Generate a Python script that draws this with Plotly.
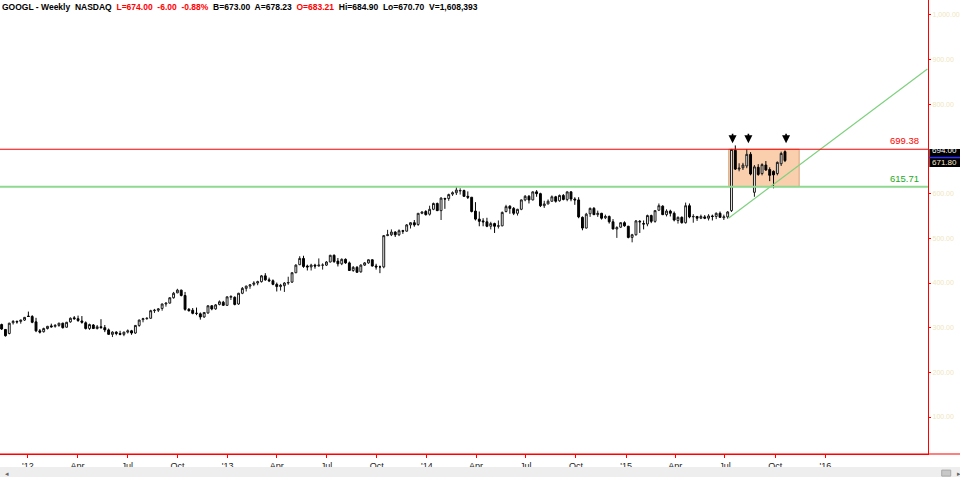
import pandas as pd
import plotly.graph_objects as go

# ---------------- data (weekly GOOGL candles) ----------------
opens = [307, 296, 287, 311, 314, 314, 317,
         326, 325, 313, 293, 291, 298, 304, 303, 305, 310, 301, 313, 322, 320, 315, 311, 298, 306, 298, 302, 300, 295,
         285, 290, 287, 285, 290, 293, 288, 305, 318, 320, 321, 338, 339, 343, 353, 355, 367, 378, 384, 372, 341, 339,
         332, 331, 324, 333, 349, 342, 352, 357, 350,
         368, 368, 353, 377, 388, 393, 397, 400, 403, 416, 407, 405, 397, 392, 394, 400, 402, 423, 441, 455, 438,
         436, 440, 438, 440, 440, 447, 462, 449, 443, 453, 445, 428, 435, 425, 440, 445, 452, 438, 436, 436, 506,
         508, 514, 508, 517, 516, 530, 535, 531, 556, 560,
         554, 565, 578, 562, 589, 589, 599, 602, 606, 607, 594, 592, 561, 543, 539, 537, 527, 533, 527, 528, 560,
         572, 567, 556, 565, 586, 594, 586, 604, 600, 573, 577, 583, 593, 584, 596, 587, 604, 588, 586, 547, 523,
         555, 567, 553, 556, 546, 549, 537, 521, 525, 535,
         527, 502, 508, 538, 533, 532, 551, 538, 563, 572, 553, 561, 556, 540, 547, 535, 573, 548, 549, 545, 548,
         545, 550, 549, 556, 546, 548, 562, 697, 655, 658, 662, 688, 603, 659, 645, 664, 654, 650, 645, 667, 694]
highs = [309, 297, 311, 317, 316, 318, 324,
         336, 328, 322, 297, 300, 304, 309, 308, 311, 311, 313, 323, 326, 327, 326, 314, 309, 308, 306, 319, 306, 298,
         292, 292, 293, 291, 296, 295, 306, 318, 322, 323, 340, 342, 344, 354, 356, 368, 380, 387, 385, 380, 344, 344,
         345, 334, 335, 350, 350, 353, 361, 360, 370,
         372, 370, 378, 391, 394, 397, 404, 405, 418, 422, 412, 408, 401, 398, 402, 414, 424, 442, 460, 461, 441,
         443, 443, 455, 444, 449, 463, 464, 456, 455, 455, 448, 438, 438, 442, 447, 453, 453, 443, 439, 507, 519,
         520, 516, 520, 519, 532, 536, 541, 556, 560, 563,
         573, 580, 580, 592, 591, 600, 605, 615.7, 612, 609, 605, 592, 581, 560, 545, 546, 537, 535, 540, 560, 575,
         574, 570, 566, 587, 597, 597, 605, 608, 602, 584, 587, 596, 595, 598, 599, 605, 605, 592, 592, 549, 557,
         569, 570, 562, 557, 553, 551, 543, 527, 536, 538,
         528, 510, 541, 541, 540, 553, 553, 563, 578, 574, 565, 564, 560, 549, 549, 580, 578, 554, 550, 553, 552,
         554, 553, 558, 560, 553, 561, 700, 708, 668, 669, 700, 693, 664, 666, 668, 673, 659, 652, 672, 694, 697]
lows = [295, 280, 285, 307, 309, 309, 315,
        324, 310, 290, 287, 289, 296, 300, 300, 302, 298, 300, 311, 318, 313, 309, 296, 295, 297, 296, 298, 290, 284,
        279, 283, 283, 281, 287, 284, 286, 302, 312, 318, 320, 333, 335, 338, 347, 354, 365, 377, 370, 338, 336, 330,
        328, 318, 322, 331, 339, 340, 350, 349, 349,
        362, 350, 351, 375, 381, 387, 393, 395, 401, 405, 402, 395, 381, 383, 380, 396, 400, 422, 440, 434, 428,
        428, 432, 437, 430, 438, 446, 445, 437, 440, 443, 427, 425, 423, 423, 438, 443, 437, 430, 422, 433, 505,
        505, 503, 505, 510, 515, 522, 526, 528, 554, 551,
        551, 563, 561, 541, 566, 584, 595, 597, 598, 593, 588, 558, 540, 527, 527, 525, 520, 512, 522, 527, 558,
        555, 552, 551, 563, 583, 578, 585, 593, 570, 568, 576, 582, 580, 582, 585, 583, 583, 575, 545, 518, 522,
        548, 552, 548, 542, 543, 533, 520, 501, 523, 526,
        500, 491, 506, 512, 520, 527, 534, 535, 561, 552, 549, 549, 538, 533, 533, 533, 545, 535, 539, 543, 543,
        540, 540, 543, 546, 541, 544, 559, 653, 650, 653, 657, 641, 593, 640, 641, 651, 628, 612, 641, 662, 670.7]
closes = [297, 282, 310, 314, 313, 317, 323,
          325, 312, 293, 290, 298, 303, 302, 305, 310, 300, 312, 321, 320, 316, 312, 298, 307, 298, 302, 300, 295, 285,
          290, 287, 285, 290, 293, 288, 305, 317, 320, 321, 338, 339, 342, 353, 355, 367, 377, 384, 372, 341, 338, 332,
          332, 324, 334, 349, 342, 351, 358, 350, 369,
          370, 352, 377, 388, 393, 396, 400, 403, 416, 407, 405, 397, 392, 395, 400, 401, 423, 440, 455, 437, 436,
          440, 438, 440, 440, 447, 462, 448, 443, 453, 445, 428, 435, 424, 440, 445, 452, 438, 436, 436, 506, 508,
          514, 508, 517, 516, 530, 535, 530, 556, 559, 553,
          565, 578, 562, 590, 588, 598, 602, 608, 607, 594, 592, 560, 543, 538, 537, 527, 533, 527, 528, 558, 571,
          567, 556, 565, 586, 594, 586, 604, 600, 573, 577, 583, 593, 583, 596, 587, 604, 588, 586, 548, 523, 554,
          567, 553, 556, 545, 549, 537, 521, 524, 535, 528,
          502, 508, 539, 537, 532, 551, 538, 562, 573, 553, 561, 556, 541, 547, 535, 573, 548, 549, 545, 549, 545,
          550, 549, 556, 547, 548, 559, 699, 655, 657, 664, 688, 644, 660, 643, 665, 653, 641, 642, 670, 690, 674]

first_week = "2011-11-14"
dates = pd.date_range(first_week, periods=len(closes), freq="W-MON")

resistance = 699.38
support = 615.71
box_dates = ["2015-07-08", "2015-11-14"]
trend_dates = ["2015-07-08", "2016-07-06"]
trend_prices = [545.5, 879.0]
arrow_dates = ["2015-07-15", "2015-08-13", "2015-10-21"]
arrow_price = 713
tag_prices = [694.00, 671.80]
tag_labels = ["694.00", "671.80"]

quarter_ticks = ["2012-01-01", "2012-04-01", "2012-07-01", "2012-10-01",
                 "2013-01-01", "2013-04-01", "2013-07-01", "2013-10-01",
                 "2014-01-01", "2014-04-01", "2014-07-01", "2014-10-01",
                 "2015-01-01", "2015-04-01", "2015-07-01", "2015-10-01", "2016-01-01"]
quarter_labels = ["'12", "Apr", "Jul", "Oct", "'13", "Apr", "Jul", "Oct",
                  "'14", "Apr", "Jul", "Oct", "'15", "Apr", "Jul", "Oct", "'16"]
# the 700.00 label sits under the black price tags in the reference, so it is not shown
price_ticks = [100, 200, 300, 400, 500, 600, 800, 900, 1000]
price_labels = ["100.00", "200.00", "300.00", "400.00", "500.00", "600.00",
                "800.00", "900.00", "1,000.00"]

x_range = ["2011-11-11", "2016-07-07"]
y_range = [17.2, 1033.5]

# ---------------- figure ----------------
fig = go.Figure()

fig.add_trace(go.Candlestick(
    x=dates, open=opens, high=highs, low=lows, close=closes,
    increasing=dict(line=dict(color="#1a1a1a", width=1), fillcolor="#ffffff"),
    decreasing=dict(line=dict(color="#000000", width=1), fillcolor="#000000"),
    whiskerwidth=0, hoverinfo="skip", showlegend=False,
))

fig.add_trace(go.Scatter(
    x=trend_dates, y=trend_prices, mode="lines",
    line=dict(color="#7fd07f", width=1.2), hoverinfo="skip", showlegend=False,
))

shapes = [
    dict(type="rect", xref="x", yref="y", x0=box_dates[0], x1=box_dates[1],
         y0=support, y1=resistance, fillcolor="#f9cfae",
         line=dict(color="#d6a07a", width=1), layer="below"),
    dict(type="line", xref="paper", yref="y", x0=0, x1=1, y0=resistance, y1=resistance,
         line=dict(color="#ff0000", width=1)),
    dict(type="line", xref="paper", yref="y", x0=0, x1=1, y0=support, y1=support,
         line=dict(color="#8fd88f", width=2)),
    dict(type="line", xref="paper", yref="paper", x0=0, x1=1.04, y0=0, y1=0,
         line=dict(color="#ff0000", width=1.2)),
    dict(type="rect", xref="paper", yref="y", x0=1.0015, x1=1.04,
         y0=659.7, y1=700.0, fillcolor="#000000", line=dict(width=0)),
    dict(type="line", xref="paper", yref="y", x0=1.0015, x1=1.04, y0=681.0, y1=681.0,
         line=dict(color="#3030ff", width=1.5)),
    dict(type="rect", xref="paper", yref="paper", x0=-0.01, x1=1.05, y0=-0.0287, y1=-0.06,
         fillcolor="#eeeeee", line=dict(width=0)),
    dict(type="rect", xref="paper", yref="paper", x0=1.0148, x1=1.0245, y0=-0.0355, y1=-0.0487,
         fillcolor="#c8c8c8", line=dict(color="#a8a8a8", width=1)),
]

annotations = [
    dict(xref="paper", yref="paper", x=0.0, y=1.0, xanchor="left", yanchor="top",
         showarrow=False, align="left",
         font=dict(family="Liberation Sans Narrow, Liberation Sans, Arial", size=8.5, color="#000000"),
         text=("<b>GOOGL - Weekly  NASDAQ  "
               "<span style='color:#ff0000'>L=674.00  -6.00  -0.88%</span>  "
               "B=673.00  A=678.23  <span style='color:#ff0000'>O=683.21</span>  "
               "Hi=684.90  Lo=670.70  V=1,608,393</b>")),
    dict(xref="paper", yref="y", x=0.9925, y=resistance, xanchor="right", yanchor="bottom",
         yshift=1, showarrow=False, text="699.38",
         font=dict(family="Liberation Sans, Arial", size=9.5, color="#ff0000")),
    dict(xref="paper", yref="y", x=0.9925, y=support, xanchor="right", yanchor="bottom",
         yshift=1, showarrow=False, text="615.71",
         font=dict(family="Liberation Sans, Arial", size=9.5, color="#22aa22")),
    dict(xref="paper", yref="paper", x=0.003, y=-0.044, xanchor="left", yanchor="middle",
         showarrow=False, text="◂", font=dict(size=7, color="#666666")),
    dict(xref="paper", yref="paper", x=1.033, y=-0.044, xanchor="center", yanchor="middle",
         showarrow=False, text="▸", font=dict(size=7, color="#666666")),
]
for d in arrow_dates:
    annotations.append(dict(x=d, y=arrow_price, xref="x", yref="y", showarrow=True,
                            ax=0, ay=-11, arrowhead=2, arrowsize=1, arrowwidth=1.6,
                            arrowcolor="#000000", text=""))
tag_colors = ["#ffffff", "#ffe8c8"]
tag_shift = [1, -1]
for p, lab, c, s in zip(tag_prices, tag_labels, tag_colors, tag_shift):
    annotations.append(dict(xref="paper", yref="y", x=1.003, y=p, xanchor="left",
                            yanchor="middle", showarrow=False, text=lab, yshift=s,
                            borderpad=0,
                            font=dict(family="Liberation Sans, Arial", size=8, color=c)))

fig.update_layout(
    width=960, height=477,
    margin=dict(l=0, r=32, t=0, b=23),
    paper_bgcolor="#ffffff", plot_bgcolor="#ffffff",
    shapes=shapes, annotations=annotations,
    xaxis=dict(type="date", range=x_range, rangeslider=dict(visible=False),
               showgrid=False, zeroline=False, showline=True, linecolor="#ff0000",
               linewidth=1, ticks="outside", tickcolor="#ff0000", ticklen=3,
               tickvals=quarter_ticks, ticktext=quarter_labels,
               tickfont=dict(family="Liberation Sans, Arial", size=9, color="#222222"),
               automargin=False),
    yaxis=dict(side="right", range=y_range, showgrid=False, zeroline=False,
               showline=True, linecolor="#ff0000", linewidth=1.2,
               ticks="outside", tickcolor="#ff0000", ticklen=2,
               tickvals=price_ticks, ticktext=price_labels,
               tickfont=dict(family="Liberation Sans Narrow, Liberation Sans, Arial", size=7,
                             color="#efe6be"),
               automargin=False),
)

fig.write_html("out.html",
               config={"displayModeBar": False},
               post_script="document.body.style.margin='0';document.body.style.padding='0';"
                           "document.body.style.overflow='hidden';")
